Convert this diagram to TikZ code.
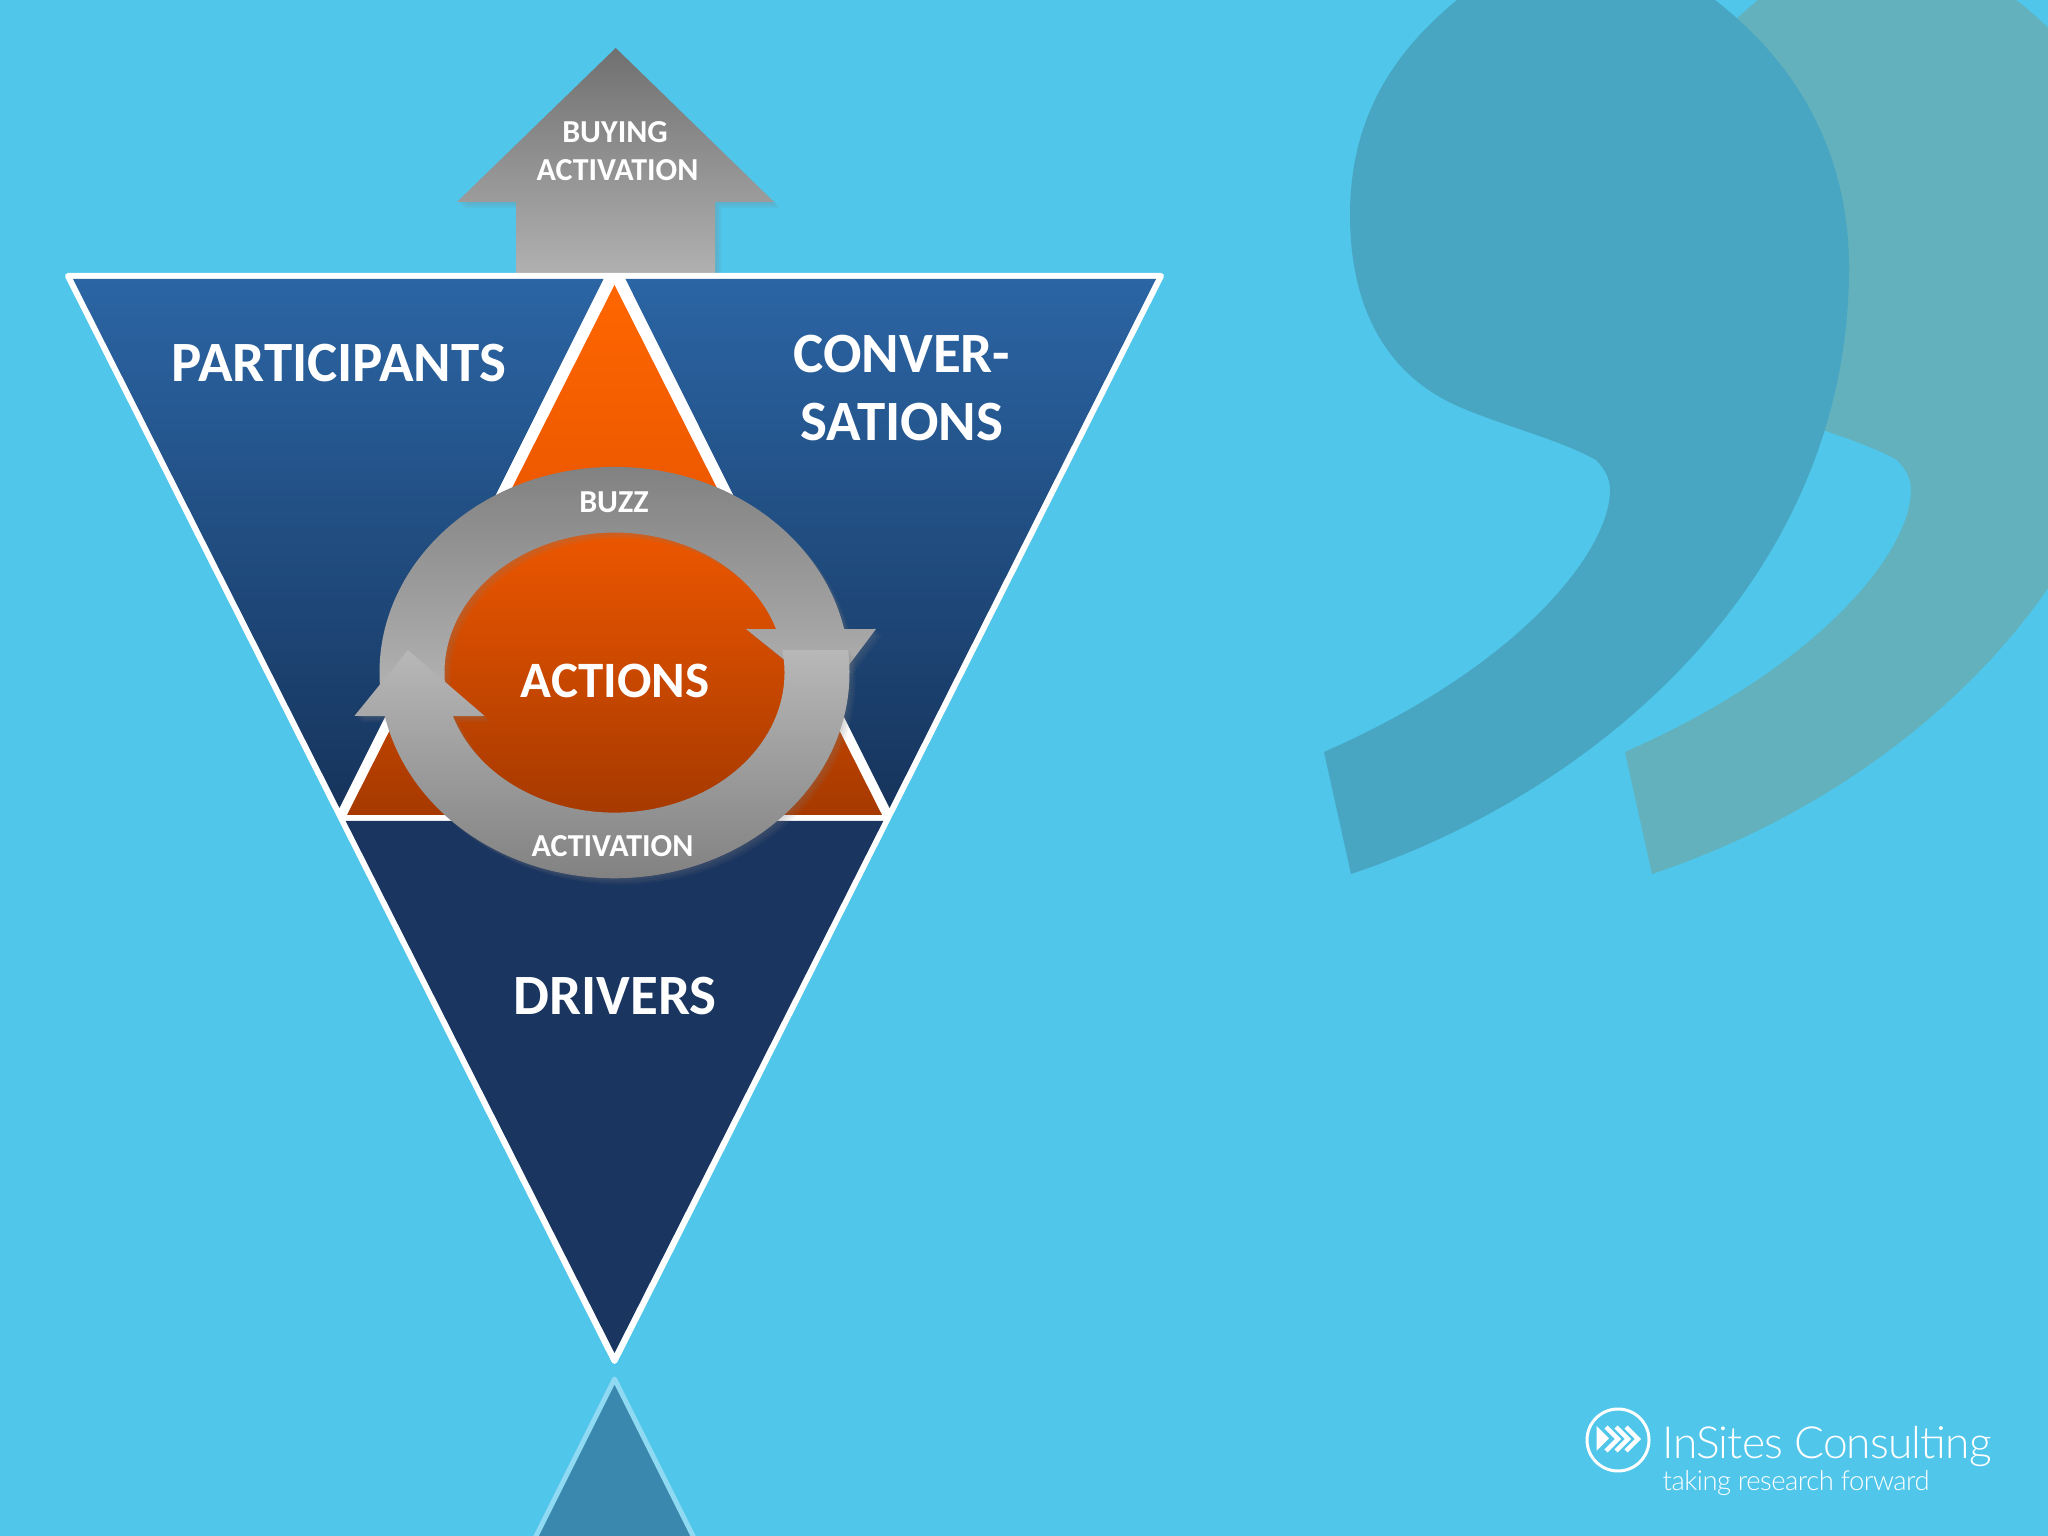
\documentclass[tikz,border=0pt]{standalone}
\usepackage{fontspec}
\setmainfont{Carlito}
\newfontfamily\logofont[LetterSpace=-1.9]{Lato Light}
\usetikzlibrary{shadows}

\definecolor{skybg}{HTML}{50C6EA}
\definecolor{quotefront}{HTML}{48A6C3}
\definecolor{quoteback}{HTML}{62B1BC}
\definecolor{bluetop}{HTML}{2B65A4}
\definecolor{bluebase}{HTML}{16345C}
\definecolor{bluedark}{HTML}{1A355F}
\definecolor{orangetop}{HTML}{FF6600}
\definecolor{orangemid}{HTML}{E85500}
\definecolor{orangebase}{HTML}{A63900}
\definecolor{footfill}{HTML}{3A88AD}
\definecolor{footline}{HTML}{8FDAF2}

\tikzset{
	softshadow/.style={
		drop shadow={shadow xshift=.02cm,shadow yshift=-.02cm,opacity=.1},
		drop shadow={shadow xshift=.04cm,shadow yshift=-.04cm,opacity=.1},
		drop shadow={shadow xshift=.06cm,shadow yshift=-.06cm,opacity=.1}},
	biglabel/.style={text=white,font=\fontsize{16.2}{18}\bfseries\selectfont},
	midlabel/.style={text=white,font=\fontsize{14.5}{16}\bfseries\selectfont},
	smalllabel/.style={text=white,font=\fontsize{9.1}{10}\bfseries\selectfont}
}

\begin{document}
\begin{tikzpicture}[x=.01cm,y=.01cm]
	\path[use as bounding box] (0,0) rectangle (2048,1536);
	\clip (0,0) rectangle (2048,1536);
	\fill[skybg] (0,0) rectangle (2048,1536);

	% quote marks
	\foreach \qshift/\qcol in {301/quoteback,0/quotefront}
		\fill[\qcol,xshift=\qshift*.01cm] (1324,784) -- (1351,662)
			.. controls (1600,745) and (1849,960) .. (1849,1268)
			.. controls (1849,1380) and (1800,1470) .. (1715,1536)
			.. controls (1650,1600) and (1520,1600) .. (1457,1536)
			.. controls (1395,1485) and (1350,1420) .. (1350,1321)
			.. controls (1350,1230) and (1385,1160) .. (1462,1128)
			.. controls (1510,1108) and (1560,1096) .. (1596,1076)
			.. controls (1606,1066) and (1610,1056) .. (1610,1046)
			.. controls (1610,985) and (1520,870) .. (1324,784) -- cycle;

	% buying arrow
	\shade[softshadow,top color=black!56,bottom color=black!30] (615.7,1488) -- (774,1334) -- (715,1334) -- (715,1255) -- (516,1255) -- (516,1334) -- (457,1334) -- cycle;

	% triangles
	\draw[white,fill=white,line width=1.7pt,line join=round] (68,1260) -- (1161,1260) -- (614.5,175) -- cycle;
	\shade[top color=bluetop,bottom color=bluebase] (73,1257) -- (603.5,1257) -- (339.5,728) -- cycle;
	\shade[top color=bluetop,bottom color=bluebase] (1156,1257) -- (625.5,1257) -- (889.5,728) -- cycle;
	\fill[bluedark] (345.7,715) -- (883.3,715) -- (614.5,183) -- cycle;
	\shade[top color=orangetop,bottom color=orangebase,middle color=orangemid] (347,721) -- (882,721) -- (614.5,1251) -- cycle;

	% ring arrows
	\coordinate (ringc) at (614.5,863.4);
	\shade[softshadow,top color=black!50,bottom color=black!30] ([shift={(184.85:235 and 205.7)}]ringc) arc[start angle=184.85,end angle=12.2,x radius=235,y radius=205.7] -- (876,907) -- (827,842) -- (746,907) -- ([shift={(18.1:170 and 140)}]ringc) arc[start angle=18.1,end angle=187.1,x radius=170,y radius=140] -- cycle;
	\shade[softshadow,top color=black!28,bottom color=black!50] ([shift={(6.3:235 and 205.7)}]ringc) arc[start angle=6.3,end angle=-167.8,x radius=235,y radius=205.7] -- (354.4,820) -- (408,886) -- (484.6,820) -- ([shift={(-161.9:170 and 140)}]ringc) arc[start angle=-161.9,end angle=9.3,x radius=170,y radius=140] -- cycle;

	% labels
	\node[biglabel] (participants) at (339,1173) {PARTICIPANTS};
	\node[biglabel] (conver) at (902,1182) {CONVER-};
	\node[biglabel] (sations) at (902,1114) {SATIONS};
	\node[biglabel] (drivers) at (615,539.5) {DRIVERS};
	\node[midlabel] (actions) at (615,855.5) {ACTIONS};
	\node[smalllabel] (buzz) at (614,1033.5) {BUZZ};
	\node[smalllabel] (activation) at (612.5,690) {ACTIVATION};
	\node[smalllabel] (buying) at (615,1404) {BUYING};
	\node[smalllabel] (buyact) at (617.5,1366) {ACTIVATION};

	% foot triangle
	\draw[footline,fill=footfill,line width=1.4pt,line join=round] (614.5,157) -- (704,-22) -- (525,-22) -- cycle;

	% logo
	\draw[white,line width=.85pt] (1618,96) circle (31);
	\fill[white] (1596.7,110) -- (1596.7,85.3) -- (1609,97.7) -- cycle;
	\foreach \cx in {1606,1616,1626}
		\draw[white,line width=1.25pt] (\cx,109) -- (\cx+12,97) -- (\cx,85);
	\node[text=white,anchor=west,inner sep=0pt,font=\logofont\fontsize{12.6}{15}\selectfont] (logoname) at (1662,90) {InSites Consulting};
	\node[text=white,anchor=west,inner sep=0pt,font=\logofont\fontsize{7.8}{9}\selectfont] (logotag) at (1662,53) {taking research forward};
\end{tikzpicture}
\end{document}
